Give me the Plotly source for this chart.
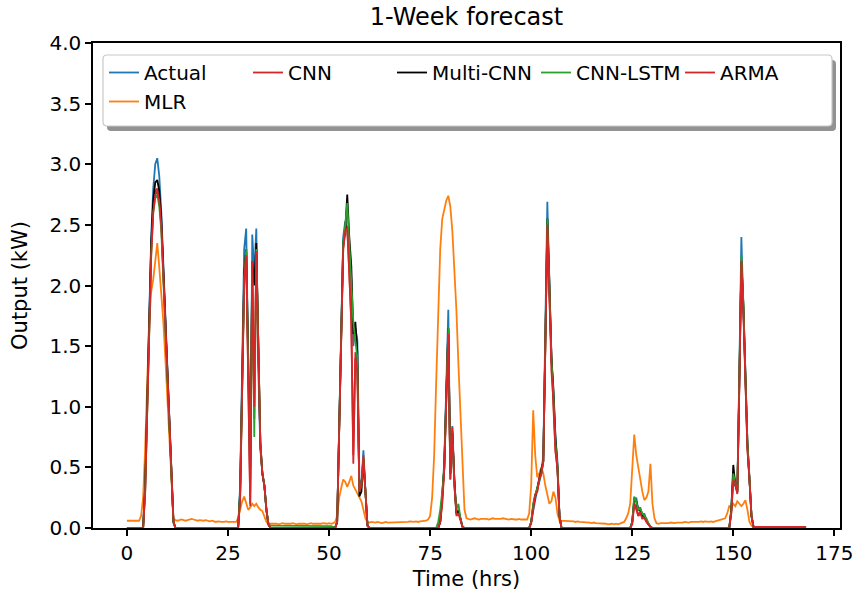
import plotly.graph_objects as go

# Half-hourly time stamps over one week (0 .. 168 h)
hours = [i * 0.5 for i in range(337)]

# Measured PV output (kW), one row = 12 hours (24 half-hour samples)
actual = [
    0, 0, 0, 0, 0, 0, 0, 0, 0.0, 0.4, 1.15, 1.85, 2.4, 2.8, 3.0, 3.05, 2.9, 2.6, 2.15, 1.7, 1.3, 0.9, 0.45, 0.05,
    0, 0, 0, 0, 0, 0, 0, 0, 0, 0, 0, 0, 0, 0, 0, 0, 0, 0, 0, 0, 0, 0, 0, 0,
    0, 0, 0, 0, 0, 0, 0, 0, 0.35, 1.4, 2.3, 2.47, 1.3, 0.3, 2.42, 2.1, 2.47, 1.3, 0.65, 0.45, 0.35, 0.15, 0.03, 0,
    0, 0, 0, 0, 0, 0, 0, 0, 0, 0, 0, 0, 0, 0, 0, 0, 0, 0, 0, 0, 0, 0, 0, 0,
    0, 0, 0, 0, 0, 0, 0, 0, 0.05, 0.9, 1.8, 2.4, 2.53, 2.45, 2.3, 2.05, 1.5, 1.65, 1.55, 0.4, 0.35, 0.64, 0.3, 0.02,
    0, 0, 0, 0, 0, 0, 0, 0, 0, 0, 0, 0, 0, 0, 0, 0, 0, 0, 0, 0, 0, 0, 0, 0,
    0, 0, 0, 0, 0, 0, 0, 0, 0, 0, 0, 0.05, 0.25, 0.55, 1.2, 1.8, 0.45, 0.84, 0.4, 0.12, 0.15, 0.08, 0.01, 0,
    0, 0, 0, 0, 0, 0, 0, 0, 0, 0, 0, 0, 0, 0, 0, 0, 0, 0, 0, 0, 0, 0, 0, 0,
    0, 0, 0, 0, 0, 0, 0, 0, 0.05, 0.15, 0.25, 0.32, 0.38, 0.45, 0.6, 1.6, 2.69, 2.0, 1.43, 1.1, 0.75, 0.55, 0.1, 0,
    0, 0, 0, 0, 0, 0, 0, 0, 0, 0, 0, 0, 0, 0, 0, 0, 0, 0, 0, 0, 0, 0, 0, 0,
    0, 0, 0, 0, 0, 0, 0, 0, 0, 0, 0.05, 0.22, 0.25, 0.15, 0.17, 0.1, 0.12, 0.06, 0.04, 0.01, 0, 0, 0, 0,
    0, 0, 0, 0, 0, 0, 0, 0, 0, 0, 0, 0, 0, 0, 0, 0, 0, 0, 0, 0, 0, 0, 0, 0,
    0, 0, 0, 0, 0, 0, 0, 0, 0, 0, 0, 0.15, 0.45, 0.38, 0.3, 1.3, 2.4, 1.8, 1.15, 0.7, 0.42, 0.1, 0.01, 0.01,
    0.01, 0.01, 0.01, 0.01, 0.01, 0.01, 0.01, 0.01, 0.01, 0.01, 0.01, 0.01, 0.01, 0.01, 0.01, 0.01, 0.01, 0.01, 0.01, 0.01, 0.01, 0.01, 0.01, 0.01,
    0.01,
]

mlr = [
    0.06, 0.06, 0.055, 0.06, 0.06, 0.055, 0.06, 0.1, 0.25, 0.65, 1.2, 1.7, 1.95, 2.05, 2.2, 2.35, 2.15, 1.95, 1.7, 1.4, 1.05, 0.65, 0.3, 0.08,
    0.065, 0.06, 0.065, 0.07, 0.065, 0.06, 0.065, 0.07, 0.075, 0.07, 0.065, 0.06, 0.065, 0.06, 0.06, 0.065, 0.06, 0.055, 0.06, 0.055, 0.05, 0.055, 0.05, 0.05,
    0.05, 0.055, 0.05, 0.05, 0.055, 0.05, 0.05, 0.08, 0.15, 0.22, 0.26, 0.2, 0.15, 0.17, 0.2, 0.18, 0.2, 0.17, 0.15, 0.14, 0.1, 0.05, 0.035, 0.035,
    0.035, 0.04, 0.035, 0.03, 0.035, 0.04, 0.035, 0.035, 0.03, 0.035, 0.04, 0.035, 0.03, 0.035, 0.035, 0.04, 0.035, 0.03, 0.035, 0.04, 0.035, 0.035, 0.03, 0.035,
    0.035, 0.04, 0.035, 0.035, 0.04, 0.035, 0.04, 0.05, 0.1, 0.25, 0.33, 0.4, 0.38, 0.34, 0.38, 0.43, 0.35, 0.32, 0.28, 0.25, 0.22, 0.15, 0.08, 0.05,
    0.045, 0.05, 0.045, 0.045, 0.05, 0.045, 0.04, 0.045, 0.05, 0.045, 0.045, 0.05, 0.045, 0.05, 0.05, 0.045, 0.05, 0.05, 0.045, 0.05, 0.055, 0.05, 0.05, 0.055,
    0.05, 0.055, 0.055, 0.06, 0.06, 0.07, 0.1, 0.25, 0.6, 1.2, 1.75, 2.3, 2.55, 2.62, 2.7, 2.74, 2.65, 2.45, 2.15, 1.8, 1.35, 0.9, 0.45, 0.15,
    0.08, 0.075, 0.07, 0.075, 0.08, 0.075, 0.07, 0.075, 0.075, 0.08, 0.075, 0.07, 0.075, 0.08, 0.075, 0.075, 0.07, 0.075, 0.08, 0.075, 0.07, 0.07, 0.075, 0.07,
    0.07, 0.07, 0.075, 0.07, 0.07, 0.07, 0.07, 0.12, 0.35, 0.97, 0.6, 0.42, 0.45, 0.5, 0.45, 0.35, 0.28, 0.2, 0.22, 0.3, 0.25, 0.12, 0.06, 0.06,
    0.06, 0.06, 0.055, 0.06, 0.055, 0.055, 0.05, 0.055, 0.05, 0.05, 0.045, 0.05, 0.045, 0.045, 0.04, 0.045, 0.04, 0.04, 0.035, 0.04, 0.035, 0.035, 0.03, 0.035,
    0.035, 0.03, 0.035, 0.03, 0.035, 0.04, 0.05, 0.08, 0.12, 0.2, 0.45, 0.77, 0.6, 0.5, 0.38, 0.3, 0.23, 0.25, 0.3, 0.53, 0.2, 0.08, 0.04, 0.035,
    0.04, 0.04, 0.035, 0.04, 0.04, 0.045, 0.04, 0.04, 0.045, 0.045, 0.04, 0.045, 0.05, 0.045, 0.045, 0.05, 0.05, 0.045, 0.05, 0.05, 0.055, 0.05, 0.055, 0.05,
    0.05, 0.055, 0.05, 0.055, 0.06, 0.06, 0.065, 0.07, 0.08, 0.12, 0.18, 0.17, 0.2, 0.18, 0.22, 0.2, 0.18, 0.2, 0.23, 0.15, 0.05, 0.02, 0.01, 0.01,
    0.01, 0.01, 0.01, 0.01, 0.01, 0.01, 0.01, 0.01, 0.01, 0.01, 0.01, 0.01, 0.01, 0.01, 0.01, 0.01, 0.01, 0.01, 0.01, 0.01, 0.01, 0.01, 0.01, 0.01,
    0.005,
]

cnn = [
    0, 0, 0, 0, 0, 0, 0, 0, 0.0, 0.3, 1.0, 1.7, 2.3, 2.65, 2.78, 2.8, 2.72, 2.5, 2.1, 1.7, 1.3, 0.9, 0.45, 0.05,
    0, 0, 0, 0, 0, 0, 0, 0, 0, 0, 0, 0, 0, 0, 0, 0, 0, 0, 0, 0, 0, 0, 0, 0,
    0, 0, 0, 0, 0, 0, 0, 0, 0.25, 1.2, 2.0, 2.28, 1.2, 0.18, 2.15, 0.9, 2.3, 1.5, 0.7, 0.45, 0.35, 0.15, 0.03, 0,
    0, 0, 0, 0, 0, 0, 0, 0, 0, 0, 0, 0, 0, 0, 0, 0, 0, 0, 0, 0, 0, 0, 0, 0,
    0, 0, 0, 0, 0, 0, 0, 0, 0.05, 0.8, 1.7, 2.3, 2.45, 2.49, 2.1, 1.7, 0.53, 1.45, 1.3, 0.3, 0.35, 0.6, 0.3, 0.02,
    0, 0, 0, 0, 0, 0, 0, 0, 0, 0, 0, 0, 0, 0, 0, 0, 0, 0, 0, 0, 0, 0, 0, 0,
    0, 0, 0, 0, 0, 0, 0, 0, 0, 0, 0, 0.05, 0.22, 0.5, 1.1, 1.64, 0.4, 0.83, 0.35, 0.12, 0.14, 0.07, 0.01, 0,
    0, 0, 0, 0, 0, 0, 0, 0, 0, 0, 0, 0, 0, 0, 0, 0, 0, 0, 0, 0, 0, 0, 0, 0,
    0, 0, 0, 0, 0, 0, 0, 0, 0.04, 0.19, 0.28, 0.3, 0.42, 0.44, 0.55, 1.45, 2.47, 1.9, 1.35, 1.0, 0.63, 0.5, 0.1, 0,
    0, 0, 0, 0, 0, 0, 0, 0, 0, 0, 0, 0, 0, 0, 0, 0, 0, 0, 0, 0, 0, 0, 0, 0,
    0, 0, 0, 0, 0, 0, 0, 0, 0, 0, 0.04, 0.2, 0.18, 0.1, 0.14, 0.08, 0.09, 0.05, 0.03, 0.01, 0, 0, 0, 0,
    0, 0, 0, 0, 0, 0, 0, 0, 0, 0, 0, 0, 0, 0, 0, 0, 0, 0, 0, 0, 0, 0, 0, 0,
    0, 0, 0, 0, 0, 0, 0, 0, 0, 0, 0, 0.12, 0.4, 0.37, 0.29, 1.2, 2.21, 1.8, 1.15, 0.65, 0.4, 0.1, 0.01, 0.01,
    0.01, 0.01, 0.01, 0.01, 0.01, 0.01, 0.01, 0.01, 0.01, 0.01, 0.01, 0.01, 0.01, 0.01, 0.01, 0.01, 0.01, 0.01, 0.01, 0.01, 0.01, 0.01, 0.01, 0.01,
    0.01,
]

multi_cnn = [
    0, 0, 0, 0, 0, 0, 0, 0, 0.0, 0.35, 1.1, 1.8, 2.35, 2.7, 2.85, 2.87, 2.78, 2.55, 2.15, 1.7, 1.3, 0.9, 0.45, 0.05,
    0, 0, 0, 0, 0, 0, 0, 0, 0, 0, 0, 0, 0, 0, 0, 0, 0, 0, 0, 0, 0, 0, 0, 0,
    0, 0, 0, 0, 0, 0, 0, 0, 0.3, 1.3, 2.1, 2.3, 1.4, 0.5, 2.2, 2.0, 2.35, 1.4, 0.7, 0.45, 0.35, 0.15, 0.03, 0,
    0, 0, 0, 0, 0, 0, 0, 0, 0, 0, 0, 0, 0, 0, 0, 0, 0, 0, 0, 0, 0, 0, 0, 0,
    0, 0, 0, 0, 0, 0, 0, 0, 0.05, 0.85, 1.75, 2.35, 2.45, 2.75, 2.4, 2.16, 1.6, 1.7, 1.45, 0.26, 0.3, 0.55, 0.3, 0.02,
    0, 0, 0, 0, 0, 0, 0, 0, 0, 0, 0, 0, 0, 0, 0, 0, 0, 0, 0, 0, 0, 0, 0, 0,
    0, 0, 0, 0, 0, 0, 0, 0, 0, 0, 0, 0.05, 0.25, 0.5, 1.1, 1.65, 0.45, 0.78, 0.4, 0.12, 0.14, 0.07, 0.01, 0,
    0, 0, 0, 0, 0, 0, 0, 0, 0, 0, 0, 0, 0, 0, 0, 0, 0, 0, 0, 0, 0, 0, 0, 0,
    0, 0, 0, 0, 0, 0, 0, 0, 0.05, 0.18, 0.26, 0.32, 0.4, 0.48, 0.55, 1.5, 2.55, 2.05, 1.4, 1.15, 0.75, 0.5, 0.1, 0,
    0, 0, 0, 0, 0, 0, 0, 0, 0, 0, 0, 0, 0, 0, 0, 0, 0, 0, 0, 0, 0, 0, 0, 0,
    0, 0, 0, 0, 0, 0, 0, 0, 0, 0, 0.05, 0.25, 0.22, 0.15, 0.15, 0.1, 0.1, 0.06, 0.03, 0.01, 0, 0, 0, 0,
    0, 0, 0, 0, 0, 0, 0, 0, 0, 0, 0, 0, 0, 0, 0, 0, 0, 0, 0, 0, 0, 0, 0, 0,
    0, 0, 0, 0, 0, 0, 0, 0, 0, 0, 0, 0.15, 0.52, 0.35, 0.3, 1.2, 2.2, 1.85, 1.2, 0.7, 0.4, 0.1, 0.01, 0.01,
    0.01, 0.01, 0.01, 0.01, 0.01, 0.01, 0.01, 0.01, 0.01, 0.01, 0.01, 0.01, 0.01, 0.01, 0.01, 0.01, 0.01, 0.01, 0.01, 0.01, 0.01, 0.01, 0.01, 0.01,
    0.01,
]

cnn_lstm = [
    0, 0, 0, 0, 0, 0, 0, 0, 0.0, 0.3, 1.0, 1.7, 2.25, 2.6, 2.72, 2.75, 2.65, 2.45, 2.05, 1.65, 1.25, 0.85, 0.4, 0.04,
    0, 0, 0, 0, 0, 0, 0, 0, 0, 0, 0, 0, 0, 0, 0, 0, 0, 0, 0, 0, 0, 0, 0, 0,
    0, 0, 0, 0, 0, 0, 0, 0, 0.3, 1.25, 2.05, 2.3, 1.3, 0.4, 2.2, 0.75, 2.3, 1.4, 0.7, 0.45, 0.35, 0.15, 0.03, 0.02,
    0.02, 0.02, 0.02, 0.02, 0.02, 0.02, 0.02, 0.02, 0.02, 0.02, 0.02, 0.02, 0.02, 0.02, 0.02, 0.02, 0.02, 0.02, 0.02, 0.02, 0.02, 0.02, 0.02, 0.02,
    0.02, 0.02, 0.02, 0.02, 0.02, 0.015, 0.01, 0.01, 0.05, 0.85, 1.75, 2.35, 2.5, 2.68, 2.35, 2.05, 1.7, 1.55, 1.4, 0.3, 0.35, 0.58, 0.3, 0.02,
    0, 0, 0, 0, 0, 0, 0, 0, 0, 0, 0, 0, 0, 0, 0, 0, 0, 0, 0, 0, 0, 0, 0, 0,
    0, 0, 0, 0, 0, 0, 0, 0, 0, 0, 0.05, 0.15, 0.3, 0.5, 1.1, 1.65, 0.45, 0.78, 0.35, 0.15, 0.2, 0.08, 0.01, 0,
    0, 0, 0, 0, 0, 0, 0, 0, 0, 0, 0, 0, 0, 0, 0, 0, 0, 0, 0, 0, 0, 0, 0, 0,
    0, 0, 0, 0, 0, 0, 0, 0, 0.05, 0.2, 0.27, 0.33, 0.4, 0.45, 0.55, 1.55, 2.55, 2.0, 1.4, 1.1, 0.7, 0.52, 0.1, 0,
    0, 0, 0, 0, 0, 0, 0, 0, 0, 0, 0, 0, 0, 0, 0, 0, 0, 0, 0, 0, 0, 0, 0, 0,
    0, 0, 0, 0, 0, 0, 0, 0, 0, 0, 0.05, 0.26, 0.22, 0.15, 0.16, 0.12, 0.1, 0.08, 0.04, 0.01, 0, 0, 0, 0,
    0, 0, 0, 0, 0, 0, 0, 0, 0, 0, 0, 0, 0, 0, 0, 0, 0, 0, 0, 0, 0, 0, 0, 0,
    0, 0, 0, 0, 0, 0, 0, 0, 0, 0, 0, 0.14, 0.45, 0.36, 0.3, 1.25, 2.25, 1.85, 1.2, 0.7, 0.42, 0.1, 0.01, 0.01,
    0.01, 0.01, 0.01, 0.01, 0.01, 0.01, 0.01, 0.01, 0.01, 0.01, 0.01, 0.01, 0.01, 0.01, 0.01, 0.01, 0.01, 0.01, 0.01, 0.01, 0.01, 0.01, 0.01, 0.01,
    0.01,
]

arma = [
    0, 0, 0, 0, 0, 0, 0, 0, 0.0, 0.28, 0.95, 1.65, 2.25, 2.6, 2.75, 2.78, 2.7, 2.5, 2.12, 1.72, 1.32, 0.92, 0.48, 0.06,
    0, 0, 0, 0, 0, 0, 0, 0, 0, 0, 0, 0, 0, 0, 0, 0, 0, 0, 0, 0, 0, 0, 0, 0,
    0, 0, 0, 0, 0, 0, 0, 0, 0.25, 1.2, 2.05, 2.25, 1.25, 0.2, 2.2, 1.0, 2.28, 1.45, 0.68, 0.45, 0.35, 0.15, 0.03, 0,
    0, 0, 0, 0, 0, 0, 0, 0, 0, 0, 0, 0, 0, 0, 0, 0, 0, 0, 0, 0, 0, 0, 0, 0,
    0, 0, 0, 0, 0, 0, 0, 0, 0.05, 0.8, 1.7, 2.3, 2.45, 2.47, 2.1, 1.69, 0.6, 1.4, 1.3, 0.3, 0.35, 0.58, 0.3, 0.02,
    0, 0, 0, 0, 0, 0, 0, 0, 0, 0, 0, 0, 0, 0, 0, 0, 0, 0, 0, 0, 0, 0, 0, 0,
    0, 0, 0, 0, 0, 0, 0, 0, 0, 0, 0, 0.05, 0.2, 0.48, 1.05, 1.6, 0.4, 0.8, 0.38, 0.1, 0.12, 0.06, 0.01, 0,
    0, 0, 0, 0, 0, 0, 0, 0, 0, 0, 0, 0, 0, 0, 0, 0, 0, 0, 0, 0, 0, 0, 0, 0,
    0, 0, 0, 0, 0, 0, 0, 0, 0.04, 0.17, 0.27, 0.3, 0.4, 0.45, 0.55, 1.5, 2.5, 1.95, 1.3, 1.05, 0.65, 0.48, 0.1, 0,
    0, 0, 0, 0, 0, 0, 0, 0, 0, 0, 0, 0, 0, 0, 0, 0, 0, 0, 0, 0, 0, 0, 0, 0,
    0, 0, 0, 0, 0, 0, 0, 0, 0, 0, 0.03, 0.2, 0.15, 0.1, 0.12, 0.08, 0.08, 0.05, 0.03, 0.01, 0, 0, 0, 0,
    0, 0, 0, 0, 0, 0, 0, 0, 0, 0, 0, 0, 0, 0, 0, 0, 0, 0, 0, 0, 0, 0, 0, 0,
    0, 0, 0, 0, 0, 0, 0, 0, 0, 0, 0, 0.12, 0.4, 0.36, 0.28, 1.18, 2.2, 1.78, 1.12, 0.65, 0.4, 0.1, 0.01, 0.01,
    0.01, 0.01, 0.01, 0.01, 0.01, 0.01, 0.01, 0.01, 0.01, 0.01, 0.01, 0.01, 0.01, 0.01, 0.01, 0.01, 0.01, 0.01, 0.01, 0.01, 0.01, 0.01, 0.01, 0.01,
    0.01,
]

for s in (actual, mlr, cnn, multi_cnn, cnn_lstm, arma):
    assert len(s) == len(hours), len(s)

# Drawing order (bottom to top) and legend rank (row-wise legend layout)
series = [
    ("Actual", actual, "#1f77b4", 1),
    ("MLR", mlr, "#ff7f0e", 6),
    ("CNN", cnn, "#d62728", 2),
    ("Multi-CNN", multi_cnn, "#000000", 3),
    ("CNN-LSTM", cnn_lstm, "#2ca02c", 4),
    ("ARMA", arma, "#d62728", 5),
]

FONT = "DejaVu Sans"
W, H = 858, 595
ML, MR, MT, MB = 93, 18, 43, 67
PW, PH = W - ML - MR, H - MT - MB

fig = go.Figure()
for name, vals, color, rank in series:
    fig.add_trace(go.Scatter(
        x=hours, y=vals, mode="lines", name=name,
        line=dict(color=color, width=1.8),
        legendrank=rank,
    ))


def px_x(p):
    return (p - ML) / PW


def px_y(p):
    return (H - MB - p) / PH


def rounded_box(x0, y0, x1, y1, r=4):
    """Rounded rectangle path in paper units from pixel corners."""
    X0, X1 = px_x(x0), px_x(x1)
    Y0, Y1 = px_y(y0), px_y(y1)  # Y0 is the top
    rx, ry = r / PW, r / PH
    return (
        f"M{X0 + rx},{Y0} L{X1 - rx},{Y0} Q{X1},{Y0} {X1},{Y0 - ry} "
        f"L{X1},{Y1 + ry} Q{X1},{Y1} {X1 - rx},{Y1} "
        f"L{X0 + rx},{Y1} Q{X0},{Y1} {X0},{Y1 + ry} "
        f"L{X0},{Y0 - ry} Q{X0},{Y0} {X0 + rx},{Y0} Z"
    )


box = (103, 55, 832, 126)
shapes = [
    dict(type="path", xref="paper", yref="paper", layer="above",
         path=rounded_box(box[0] + 4, box[1] + 5, box[2] + 4, box[3] + 5),
         fillcolor="rgba(110,110,110,0.75)", line=dict(width=0)),
    dict(type="path", xref="paper", yref="paper", layer="above",
         path=rounded_box(*box),
         fillcolor="white", line=dict(color="#c8c8c8", width=1.2)),
]

axis_common = dict(
    showline=True, linecolor="black", linewidth=1.5, mirror=True,
    ticks="outside", ticklen=6, tickwidth=1.5, tickcolor="black",
    showgrid=False, zeroline=False, automargin=False,
    tickfont=dict(family=FONT, size=20, color="black"),
)

fig.update_layout(
    width=W, height=H,
    margin=dict(l=ML, r=MR, t=MT, b=MB),
    paper_bgcolor="white", plot_bgcolor="white",
    font=dict(family=FONT, color="black"),
    title=dict(text="1-Week forecast", x=0.5, xref="paper", xanchor="center",
               y=1 - 17 / H, yref="container", yanchor="middle",
               font=dict(family=FONT, size=24, color="black")),
    xaxis=dict(range=[-8.4, 176.4], tick0=0, dtick=25,
               title=dict(text="Time (hrs)", font=dict(family=FONT, size=21), standoff=8),
               **axis_common),
    yaxis=dict(range=[0, 4], tick0=0, dtick=0.5, tickformat=".1f",
               title=dict(text="Output (kW)", font=dict(family=FONT, size=21), standoff=16),
               **axis_common),
    showlegend=True,
    legend=dict(
        orientation="h", x=px_x(104), y=px_y(53), xanchor="left", yanchor="top",
        bgcolor="rgba(0,0,0,0)", borderwidth=0,
        font=dict(family=FONT, size=20, color="black"),
        entrywidth=99, entrywidthmode="pixels", traceorder="normal",
        itemwidth=30,
    ),
    shapes=shapes,
)

fig.write_html("out.html")
